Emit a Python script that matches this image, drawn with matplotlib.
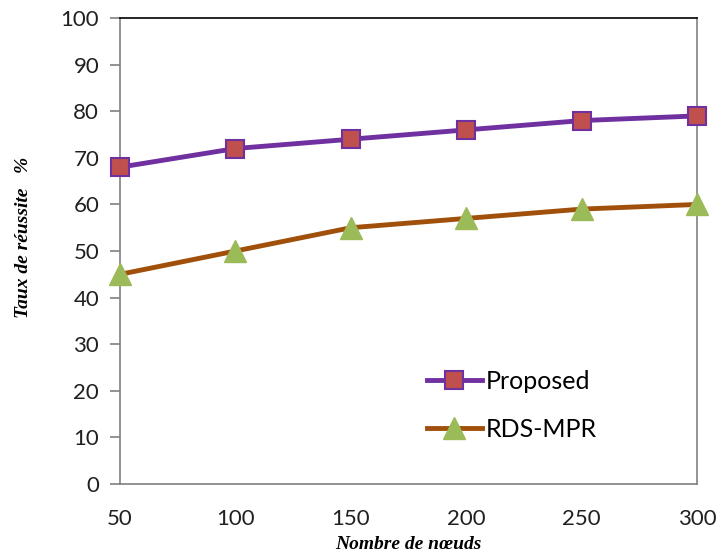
import matplotlib.pyplot as plt

# --- Data ---
nodes = [50, 100, 150, 200, 250, 300]
proposed = [68, 72, 74, 76, 78, 79]
rds_mpr = [45, 50, 55, 57, 59, 60]
yticks = [0, 10, 20, 30, 40, 50, 60, 70, 80, 90, 100]

fig = plt.figure(figsize=(7.23, 5.56), dpi=100)
ax = fig.add_axes([0.166, 0.1295, 0.798, 0.838])

ax.plot(nodes, proposed, color="#7030A0", lw=3.5, marker="s", markersize=13,
        markerfacecolor="#C0504D", markeredgecolor="#7030A0", markeredgewidth=1.5,
        label="Proposed", clip_on=False, zorder=3)
ax.plot(nodes, rds_mpr, color="#A0500A", lw=3.5, marker="^", markersize=16,
        markerfacecolor="#9BBB59", markeredgecolor="#9BBB59",
        label="RDS-MPR", clip_on=False, zorder=3)

ax.set_xlim(50, 300)
ax.set_ylim(0, 100)
ax.set_xticks(nodes)
ax.set_yticks(yticks)

for s in ["left", "right", "bottom"]:
    ax.spines[s].set_color("#808080")
    ax.spines[s].set_linewidth(1.2)
ax.spines["top"].set_color("black")
ax.spines["top"].set_linewidth(1.2)

ax.tick_params(axis="y", length=7, width=1.2, color="#808080", pad=8,
               labelsize=16, labelcolor="#202020")
ax.tick_params(axis="x", length=0, pad=18, labelsize=16, labelcolor="#202020")
for lab in ax.get_xticklabels() + ax.get_yticklabels():
    lab.set_fontfamily("Lato")

ax.set_xlabel("Nombre de nœuds", fontfamily="Liberation Serif", fontsize=14,
              fontweight="bold", fontstyle="italic", labelpad=5)
ax.set_ylabel("Taux de réussite   %", fontfamily="Liberation Serif", fontsize=14,
              fontweight="bold", fontstyle="italic")
ax.yaxis.set_label_coords(-0.152, 0.53)

leg = ax.legend(loc="lower right", bbox_to_anchor=(0.865, 0.045), frameon=False,
                prop={"family": "Lato", "size": 18}, handlelength=2.2,
                labelspacing=1.0, handletextpad=0.15)

fig.savefig("out.png", dpi=100)
